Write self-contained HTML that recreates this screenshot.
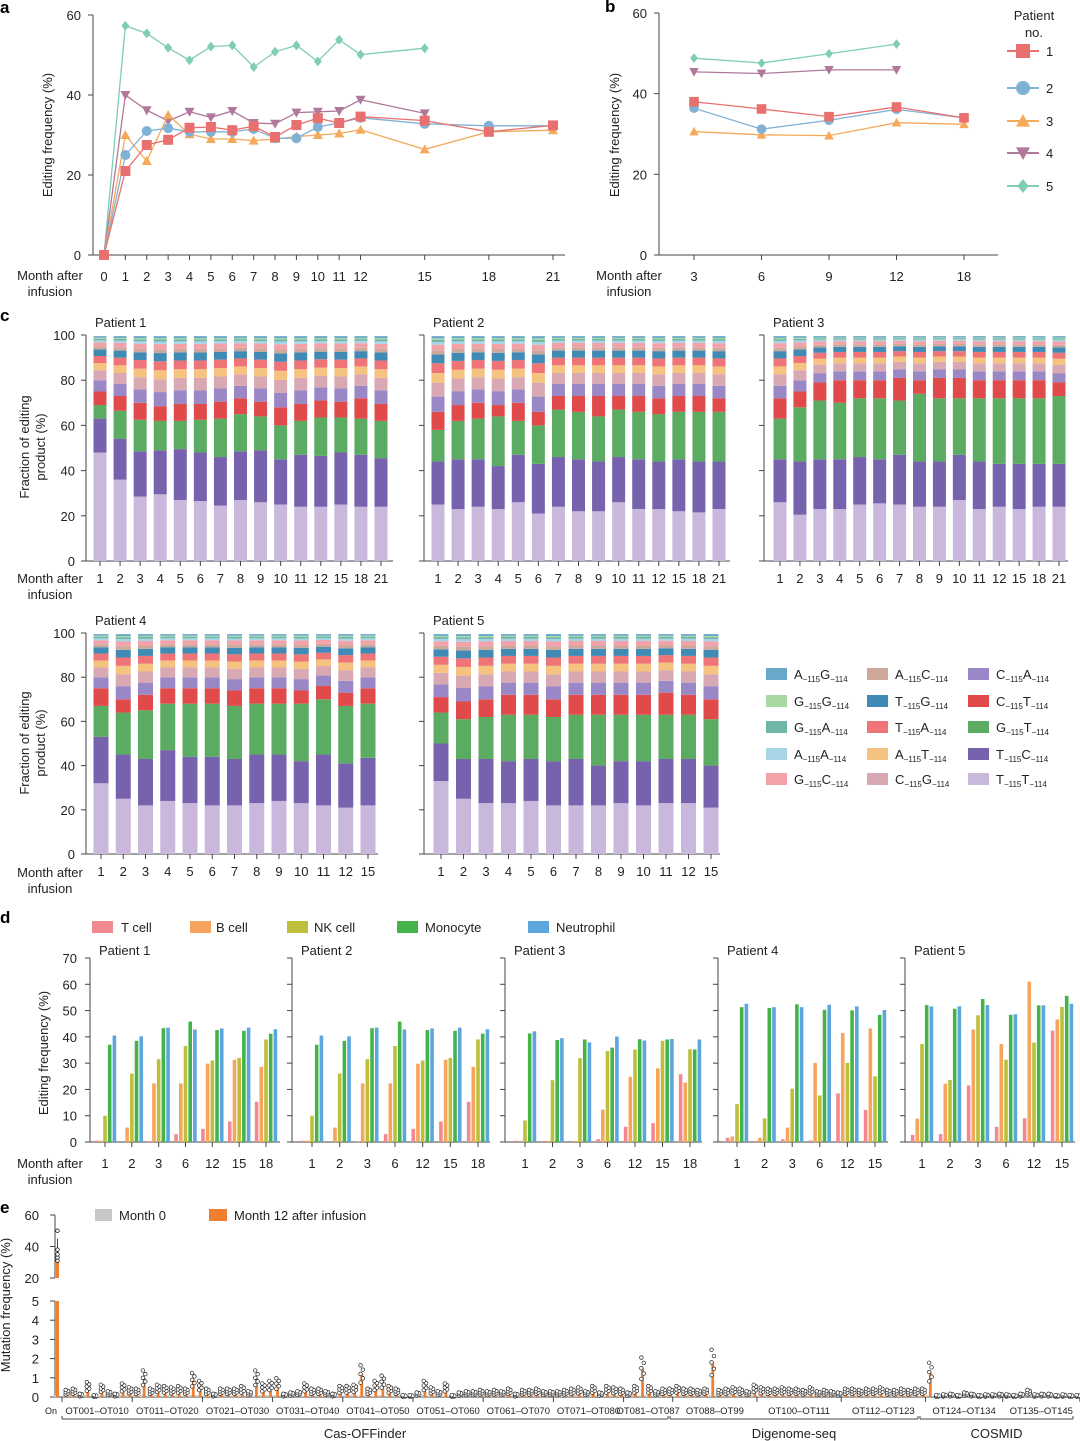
<!DOCTYPE html>
<html><head><meta charset="utf-8"><style>
html,body{margin:0;padding:0;background:#fff;}
svg{display:block;font-family:"Liberation Sans",Arial,sans-serif;}
</style></head><body>
<svg id="fig" width="1080" height="1441" viewBox="0 0 1080 1441" xmlns="http://www.w3.org/2000/svg"></svg>
<script>
// ---------- Panel a data ----------
const aMonths = [0,1,2,3,4,5,6,7,8,9,10,11,12,15,18,21];
const aP1 = [0,21,27.5,28.8,31.8,32,31.2,32.2,29.5,32.5,34.2,33,34.6,33.6,30.8,32.4];
const aP2 = [0,25,31,31.7,30.8,30.8,30.8,31.5,29.2,29.2,32,33,34.3,32.8,32.3,32.3];
const aP3 = [0,30,23.5,35,30.2,29,29,28.6,29,29.6,30,30.4,31.3,26.4,30.8,31.2];
const aP4 = [0,40,36.2,33.5,35.8,34.4,36,33,32.8,35.6,35.8,36,38.8,35.4];
const aP5 = [0,57.3,55.4,51.8,48.7,52.1,52.4,47,50.8,52.4,48.4,53.8,50.1,51.7];
const aTicksY = [0,20,40,60];
// ---------- Panel b data ----------
const bMonths = ['3','6','9','12','18'];
const bP1 = [38,36.2,34.3,36.7,34];
const bP2 = [36.4,31.2,33.4,36.1,34];
const bP3 = [30.6,29.8,29.6,32.8,32.4];
const bP4 = [45.4,45,45.9,45.9];
const bP5 = [48.8,47.6,49.9,52.3];
// ---------- Panel c data (cumulative tops of main layers) ----------
const cMonthsLong = ['1','2','3','4','5','6','7','8','9','10','11','12','15','18','21'];
const cMonthsShort = ['1','2','3','4','5','6','7','8','9','10','11','12','15'];
const cTT = [
 [48,36,28.5,29.5,27,26.5,24.5,27,26,25,24,24,25,24,24],
 [25,23,24,23,26,21,24,22,22,26,23,23,22,21.5,23],
 [26,20.5,23,23,25,25.5,25,24,24,27,23,24,23,24,24],
 [32,25,22,24,23,22,22,23,24,23,22,21,22],
 [33,25,23,23,24,22,22,22,23,22,23,23,21]];
const cTC = [
 [63,54,48.5,49,49.5,48,46,48.5,49,45,47,46.5,48,47,45.5],
 [44,45,45,42,47,43,46,45,44,46,45,44,45,44,44],
 [45,44,45,45,46,45,47,44,44,47,44,43,43,43,43],
 [53,45,43,47,44,44,43,45,45,42,45,41,43.5],
 [50,43,43,42,43,42,43,40,42,42,43,43,40]];
const cGT = [
 [69,66.5,62.5,62,62,62.5,63,65,64,60,62,63.5,63.5,63,62],
 [58,62,63,64,62,60,67,66,64,67,66,65,66,66,66],
 [63,68,71,70,72,72,71,74,72,72,72,72,72,72,73],
 [67,64,65,68,68,68,67,68,68,68,70,67,68],
 [64,61,62,63,63,62,63,63,63,63,63,63,61]];
const cCT = [
 [75,73,70,68.5,69.5,69.5,70.5,72,70.5,68,69.5,71,70.5,72,69.5],
 [66,69,70,69,70,66,73,73,73,73,73,72,73,73,72],
 [72,75,79,80,80,80,81,80,81,81,80,80,80,80,79],
 [75,70,72,75,75,75,74,75,75,74,76,73,75],
 [71,69,70,72,72,70,72,72,72,72,73,72,70]];
const cMinorShare = [5.5,5,3.5,3.5,3.2,1.5,2,1,0.8,0.5,0.8]; // CA,CG,AT,TA,TG,AC,GC,AA,GA,GG,AG
// ---------- Panel d data ----------
const dMonthsA = ['1','2','3','6','12','15','18'];
const dMonthsB = ['1','2','3','6','12','15'];
const dTcell = [[0.5,0,0.3,3,5,7.8,15.3],[0.5,0,0.3,3,5,7.8,15.3],[0.5,0.4,0,1.1,5.8,7.2,25.8],[1.6,0.4,1,0.6,18.5,12.2],[2.7,3,21.5,5.8,9,42.4]];
const dBcell = [[0.5,5.5,22.3,22.3,29.8,31.3,28.6],[0.5,5.5,22.3,22.3,29.8,31.3,28.6],[0,0.4,0.4,12.3,24.8,28,22.6],[2.1,1.6,5.5,30.1,41.5,43.2],[8.9,22.2,42.8,37.3,61,46.6]];
const dNK = [[10,26,31.5,36.5,31,32,39],[10,26,31.5,36.5,31,32,39],[8.2,23.5,31.9,34.6,35.2,38.5,35.3],[14.4,9,20.3,17.7,30.1,25],[37.3,23.6,48.2,31.3,37.8,51.4]];
const dMono = [[37,38.5,43.3,45.8,42.6,42.3,41.2],[37,38.5,43.3,45.8,42.6,42.3,41.2],[41.3,38.8,39,35.9,39.1,39,35.2],[51.3,51,52.4,50.3,50.1,48.4],[52.1,50.7,54.4,48.4,52,55.6]];
const dNeut = [[40.5,40.2,43.5,42.8,43.2,43.5,42.9],[40.5,40.2,43.5,42.8,43.2,43.5,42.9],[42.1,39.5,37.9,40.1,38.6,39.2,39],[52.6,51.3,51.3,52.2,51.6,50.2],[51.6,51.6,52.1,48.6,52,52.6]];
const dTicks = [0,10,20,30,40,50,60,70];
// ---------- Panel e data ----------
const eOn = 35;
const eOnDots = [31,33,35,38,50];
const eM12 = [
 .25,.3,.1,.55,.05,.45,.2,.1,.5,.35,
 .3,1.0,.3,.45,.4,.35,.4,.3,.9,.6,
 .3,.1,.3,.3,.3,.4,.2,1.0,.5,.6,
 .7,.1,.15,.2,.5,.3,.3,.2,.1,.4,
 .4,.45,1.2,.3,.6,.8,.4,.3,.05,.05,
 .15,.6,.35,.2,.5,.05,.15,.2,.2,.25,
 .2,.25,.2,.3,.1,.25,.25,.3,.2,.2,
 .2,.25,.3,.35,.2,.4,.15,.4,.35,.3,
 .15,.4,1.5,.4,.2,.3,.3,
 .4,.3,.3,.25,.3,1.8,.25,.3,.35,.3,.2,.45,
 .35,.3,.3,.35,.3,.3,.25,.35,.2,.25,.2,.15,
 .3,.3,.25,.3,.3,.35,.25,.25,.3,.25,.3,.3,
 1.3,.05,.08,.1,.05,.15,.1,.05,.08,.08,.1,
 .08,.05,.1,.25,.08,.1,.1,.05,.08,.05,.05];
const eM0 = [.1,.12,.08,.1,.06,.1,.08,.06,.1,.1];
const eGroups = ['OT001–OT010','OT011–OT020','OT021–OT030','OT031–OT040','OT041–OT050','OT051–OT060','OT061–OT070','OT071–OT080','OT081–OT087','OT088–OT99','OT100–OT111','OT112–OT123','OT124–OT134','OT135–OT145'];
const eGroupSizes = [10,10,10,10,10,10,10,10,7,12,12,12,11,11];

const NS='http://www.w3.org/2000/svg';
const svg=document.getElementById('fig');
function mk(tag,attrs,name,parent){
  const el=document.createElementNS(NS,tag);
  for(const k in attrs) el.setAttribute(k,attrs[k]);
  
  
  (parent||svg).appendChild(el);
  return el;
}
function txt(x,y,s,name,o){
  o=o||{};
  const t=mk('text',{x:x,y:y,'font-size':o.size||13,'text-anchor':o.anchor||'start',fill:o.fill||'#222','font-weight':o.weight||'normal'},name,o.parent);
  if(o.rot) t.setAttribute('transform','rotate(-90 '+x+' '+y+')');
  t.textContent=s; return t;
}
function line(x1,y1,x2,y2,name,c,w){return mk('line',{x1:x1,y1:y1,x2:x2,y2:y2,stroke:c||'#444','stroke-width':w||1},name);}
function marker(shape,x,y,c,s,name){
  if(shape==='square') return mk('rect',{x:x-s,y:y-s,width:2*s,height:2*s,fill:c},name);
  if(shape==='circle') return mk('circle',{cx:x,cy:y,r:s,fill:c},name);
  if(shape==='up') return mk('polygon',{points:`${x},${y-s} ${x-s},${y+s*0.8} ${x+s},${y+s*0.8}`,fill:c},name);
  if(shape==='down') return mk('polygon',{points:`${x},${y+s} ${x-s},${y-s*0.8} ${x+s},${y-s*0.8}`,fill:c},name);
  return mk('polygon',{points:`${x},${y-s} ${x+s*0.8},${y} ${x},${y+s} ${x-s*0.8},${y}`,fill:c},name);
}
const PC=['#e8706e','#7fb2d5','#f4aa5a','#b0789a','#7fcdb5'];
const PS=['square','circle','up','down','diamond'];

[['a',0,13],['b',605,12],['c',0,321],['d',0,923],['e',0,1213]].forEach(p=>txt(p[1],p[2],p[0],'panel-label-'+p[0],{size:17,weight:'bold',fill:'#000'}));

// ---------- Panel a ----------
const xA=m=>104+21.38*m, yA=v=>255-v*4;
line(93,15,93,255,'a-y-axis'); line(93,255,565,255,'a-x-axis');
aTicksY.forEach(v=>{line(88,yA(v),93,yA(v),'a-y-tick');txt(81,yA(v)+5,String(v),'a-y-tick-label',{anchor:'end'});});
aMonths.forEach(m=>{line(xA(m),255,xA(m),260,'a-x-tick');txt(xA(m),281,String(m),'a-x-tick-label',{anchor:'middle'});});
txt(52,135,'Editing frequency (%)','a-y-axis-title',{anchor:'middle',rot:1});
txt(50,280,'Month after','a-x-axis-title',{anchor:'middle'});txt(50,296,'infusion','a-x-axis-title-2',{anchor:'middle'});
[aP5,aP4,aP3,aP2,aP1].forEach((ser,k)=>{
  const p=4-k;
  const pts=ser.map((v,i)=>xA(aMonths[i])+','+yA(v)).join(' ');
  mk('polyline',{points:pts,fill:'none',stroke:PC[p],'stroke-width':1.3},'a-line-patient-'+(p+1));
  ser.forEach((v,i)=>marker(PS[p],xA(aMonths[i]),yA(v),PC[p],5,'a-point-patient-'+(p+1)));
});

// ---------- Panel b ----------
const xB=i=>694+67.5*i, yB=v=>255-v*(242/60);
line(659,13,659,255,'b-y-axis'); line(659,255,998,255,'b-x-axis');
aTicksY.forEach(v=>{line(654,yB(v),659,yB(v),'b-y-tick');txt(647,yB(v)+5,String(v),'b-y-tick-label',{anchor:'end'});});
bMonths.forEach((m,i)=>{line(xB(i),255,xB(i),260,'b-x-tick');txt(xB(i),281,m,'b-x-tick-label',{anchor:'middle'});});
txt(619,135,'Editing frequency (%)','b-y-axis-title',{anchor:'middle',rot:1});
txt(629,280,'Month after','b-x-axis-title',{anchor:'middle'});txt(629,296,'infusion','b-x-axis-title-2',{anchor:'middle'});
[bP5,bP4,bP3,bP2,bP1].forEach((ser,k)=>{
  const p=4-k;
  mk('polyline',{points:ser.map((v,i)=>xB(i)+','+yB(v)).join(' '),fill:'none',stroke:PC[p],'stroke-width':1.3},'b-line-patient-'+(p+1));
  ser.forEach((v,i)=>marker(PS[p],xB(i),yB(v),PC[p],4.8,'b-point-patient-'+(p+1)));
});
txt(1034,20,'Patient','b-legend-title',{anchor:'middle'});txt(1034,37,'no.','b-legend-title-2',{anchor:'middle'});
[51,88,121,153,186].forEach((y,p)=>{
  line(1007,y,1039,y,'b-legend-line-'+(p+1),PC[p],2);
  marker(PS[p],1023,y,PC[p],7,'b-legend-marker-'+(p+1));
  txt(1046,y+5,String(p+1),'b-legend-label-'+(p+1));
});

// ---------- Panel c ----------
const layerColors=['#c9b8dc','#7762ad','#5cab62','#e04a4a','#9a88c6','#d8a9b3','#f5c27f','#ee7478','#3f8bb6','#cfa89c','#f4a2aa','#a8d5e6','#6fb5a8','#a9d9a3','#6aa8c9'];
const cPanels=[
 {ax:86,xe:393,x0:100,x1:381,top:335,bot:561,months:cMonthsLong,bw:13,title:'Patient 1'},
 {ax:424,xe:730,x0:438,x1:719,top:335,bot:561,months:cMonthsLong,bw:13,title:'Patient 2'},
 {ax:764,xe:1068,x0:780,x1:1059,top:335,bot:561,months:cMonthsLong,bw:13,title:'Patient 3'},
 {ax:86,xe:378,x0:101,x1:368,top:633,bot:854,months:cMonthsShort,bw:15,title:'Patient 4'},
 {ax:424,xe:720,x0:441,x1:711,top:633,bot:854,months:cMonthsShort,bw:15,title:'Patient 5'}];
cPanels.forEach((P,pi)=>{
  const yC=v=>P.bot-(P.bot-P.top)*v/100;
  const n=P.months.length, xC=i=>P.x0+(P.x1-P.x0)*i/(n-1);
  line(P.ax,P.top,P.ax,P.bot,'c-y-axis-p'+(pi+1)); line(P.ax,P.bot,P.xe,P.bot,'c-x-axis-p'+(pi+1));
  [0,20,40,60,80,100].forEach(v=>{line(P.ax-5,yC(v),P.ax,yC(v),'c-y-tick');if(pi===0||pi===3)txt(P.ax-11,yC(v)+5,String(v),'c-y-tick-label',{anchor:'end'});});
  txt(P.ax+9,P.top-8,P.title,'c-title-p'+(pi+1));
  P.months.forEach((m,i)=>{
    const x=xC(i);
    line(x,P.bot,x,P.bot+5,'c-x-tick');
    txt(x,P.bot+22,m,'c-x-tick-label',{anchor:'middle'});
    const tops=[cTT[pi][i],cTC[pi][i],cGT[pi][i],cCT[pi][i]];
    const rem=99.5-tops[3], sh=cMinorShare.reduce((a,b)=>a+b,0);
    let acc=tops[3];
    cMinorShare.forEach(s=>{acc+=rem*s/sh;tops.push(acc);});
    let prev=0;
    tops.forEach((t,k)=>{
      mk('rect',{x:x-P.bw/2,y:yC(t),width:P.bw,height:Math.max(0,yC(prev)-yC(t)),fill:layerColors[k]},'c-bar-segment-p'+(pi+1));
      prev=t;
    });
  });
});
txt(29,447,'Fraction of editing','c-y-axis-title-1',{anchor:'middle',rot:1});txt(45,447,'product (%)','c-y-axis-title-1b',{anchor:'middle',rot:1});
txt(29,743,'Fraction of editing','c-y-axis-title-2',{anchor:'middle',rot:1});txt(45,743,'product (%)','c-y-axis-title-2b',{anchor:'middle',rot:1});
[[583,'c-x-title-row1'],[877,'c-x-title-row2']].forEach(r=>{txt(50,r[0],'Month after',r[1],{anchor:'middle'});txt(50,r[0]+16,'infusion',r[1]+'-b',{anchor:'middle'});});
const legCols=[766,867,968], legRows=[674,701,727,754,779];
const legItems=[['A','G',14],['G','G',13],['G','A',12],['A','A',11],['G','C',10],['A','C',9],['T','G',8],['T','A',7],['A','T',6],['C','G',5],['C','A',4],['C','T',3],['G','T',2],['T','C',1],['T','T',0]];
legItems.forEach((it,j)=>{
  const x=legCols[Math.floor(j/5)], y=legRows[j%5];
  mk('rect',{x:x,y:y-6,width:21,height:12,fill:layerColors[it[2]]},'c-legend-swatch');
  const t=mk('text',{x:x+28,y:y+5,'font-size':13,fill:'#222'},'c-legend-label');
  const a=document.createElementNS(NS,'tspan');a.textContent=it[0];t.appendChild(a);
  const b=document.createElementNS(NS,'tspan');b.setAttribute('font-size','8');b.setAttribute('dy','3');b.textContent='−115';t.appendChild(b);
  const c=document.createElementNS(NS,'tspan');c.setAttribute('dy','-3');c.textContent=it[1];t.appendChild(c);
  const d=document.createElementNS(NS,'tspan');d.setAttribute('font-size','8');d.setAttribute('dy','3');d.textContent='−114';t.appendChild(d);
});

// ---------- Panel d ----------
const dColors=['#f08a90','#f5a55e','#bdbf3a','#44b44a','#5aa6dd'];
const dNames=['T cell','B cell','NK cell','Monocyte','Neutrophil'];
[[92,121],[190,216],[287,314],[397,425],[528,556]].forEach((p,k)=>{
  mk('rect',{x:p[0],y:921,width:21,height:12,fill:dColors[k]},'d-legend-swatch-'+k);
  txt(p[1],932,dNames[k],'d-legend-label-'+k);
});
const dPanels=[
 {ax:90,xe:280,x0:105,x1:266,months:dMonthsA,t:'Patient 1'},
 {ax:292,xe:490,x0:312,x1:478,months:dMonthsA,t:'Patient 2'},
 {ax:505,xe:702,x0:525,x1:690,months:dMonthsA,t:'Patient 3'},
 {ax:718,xe:888,x0:737,x1:875,months:dMonthsB,t:'Patient 4'},
 {ax:905,xe:1075,x0:922,x1:1062,months:dMonthsB,t:'Patient 5'}];
const yD=v=>1142-v*(184/70);
dPanels.forEach((P,pi)=>{
  line(P.ax,958,P.ax,1142,'d-y-axis-p'+(pi+1)); line(P.ax,1142,P.xe,1142,'d-x-axis-p'+(pi+1));
  dTicks.forEach(v=>{line(P.ax-5,yD(v),P.ax,yD(v),'d-y-tick');if(pi===0)txt(P.ax-13,yD(v)+5,String(v),'d-y-tick-label',{anchor:'end'});});
  txt(P.ax+9,955,P.t,'d-title-p'+(pi+1));
  const n=P.months.length;
  P.months.forEach((m,i)=>{
    const x=P.x0+(P.x1-P.x0)*i/(n-1);
    line(x,1142,x,1147,'d-x-tick');
    txt(x,1168,m,'d-x-tick-label',{anchor:'middle'});
    [dTcell,dBcell,dNK,dMono,dNeut].forEach((arr,k)=>{
      const v=arr[pi][i];
      mk('rect',{x:x+(k-2)*4.7-1.8,y:yD(v),width:3.6,height:1142-yD(v),fill:dColors[k]},'d-bar-'+dNames[k].toLowerCase().replace(' ','-'));
    });
  });
});
txt(48,1053,'Editing frequency (%)','d-y-axis-title',{anchor:'middle',rot:1});
txt(50,1168,'Month after','d-x-axis-title',{anchor:'middle'});txt(50,1184,'infusion','d-x-axis-title-2',{anchor:'middle'});

// ---------- Panel e ----------
mk('rect',{x:95,y:1209,width:17,height:12,fill:'#c8c8c8'},'e-legend-swatch-month0');
txt(119,1220,'Month 0','e-legend-label-month0');
mk('rect',{x:209,y:1209,width:18,height:12,fill:'#f08030'},'e-legend-swatch-month12');
txt(234,1220,'Month 12 after infusion','e-legend-label-month12');
const yLo=v=>1397-v*19.2, yHi=v=>1278-(v-20)*(63/40);
line(55,1215,55,1278,'e-y-axis-upper'); line(55,1301,55,1397,'e-y-axis-lower'); line(55,1397,1075,1397,'e-x-axis');
[20,40,60].forEach(v=>{line(50,yHi(v),55,yHi(v),'e-y-tick');txt(39,yHi(v)+5,String(v),'e-y-tick-label',{anchor:'end'});});
[0,1,2,3,4,5].forEach(v=>{line(50,yLo(v),55,yLo(v),'e-y-tick');txt(39,yLo(v)+5,String(v),'e-y-tick-label',{anchor:'end'});});
txt(10,1305,'Mutation frequency (%)','e-y-axis-title',{anchor:'middle',rot:1});
mk('rect',{x:53,y:1395,width:3,height:2,fill:'#c8c8c8'},'e-bar-on-month0');
mk('rect',{x:56,y:yLo(5),width:3,height:1397-yLo(5),fill:'#f08030'},'e-bar-on-month12');
mk('rect',{x:56,y:yHi(eOn),width:3,height:1278-yHi(eOn),fill:'#f08030'},'e-bar-on-month12-upper');
line(57.5,yHi(Math.max(...eOnDots)-5),57.5,yHi(eOnDots[0]),'e-errorbar-on');
eOnDots.forEach(v=>mk('circle',{cx:57.5,cy:yHi(v),r:1.8,fill:'#fff',stroke:'#222','stroke-width':0.8},'e-dot-on'));
txt(51,1414,'On','e-x-label-on',{anchor:'middle',size:9});
const xE=i=>62+7.02*(i+0.5);
eM12.forEach((v,i)=>{
  const x=xE(i), g=eM0[i%eM0.length];
  mk('rect',{x:x-3,y:yLo(g),width:2.8,height:1397-yLo(g),fill:'#c8c8c8'},'e-bar-month0');
  mk('rect',{x:x,y:yLo(v),width:2.8,height:1397-yLo(v),fill:'#f08030'},'e-bar-month12');
  const sp=v*0.35+0.03;
  [-1,-0.5,0,0.5,1].forEach((o,j)=>{
    const dv=Math.max(0.02,v+o*sp);
    mk('circle',{cx:x+1.4+(j%2?1.2:-1.2),cy:yLo(dv),r:1.8,fill:'#fff',stroke:'#222','stroke-width':0.7},'e-dot');
  });
});
let acc=0;
line(62,1397,62,1402,'e-group-separator');
eGroups.forEach((g,k)=>{
  const xs=62+7.02*acc; acc+=eGroupSizes[k]; const xe=62+7.02*acc;
  line(xe,1397,xe,1402,'e-group-separator');
  txt((xs+xe)/2,1414,g,'e-group-label',{anchor:'middle',size:9.5});
});
[[62,668,'Cas-OFFinder'],[670,918,'Digenome-seq'],[920,1073,'COSMID']].forEach(b=>{
  line(b[0],1419,b[1],1419,'e-bracket-'+b[2].toLowerCase());
  line(b[0],1416,b[0],1419,'e-bracket-end'); line(b[1],1416,b[1],1419,'e-bracket-end');
  txt((b[0]+b[1])/2,1438,b[2],'e-bracket-label-'+b[2].toLowerCase(),{anchor:'middle'});
});
</script>
</body></html>
